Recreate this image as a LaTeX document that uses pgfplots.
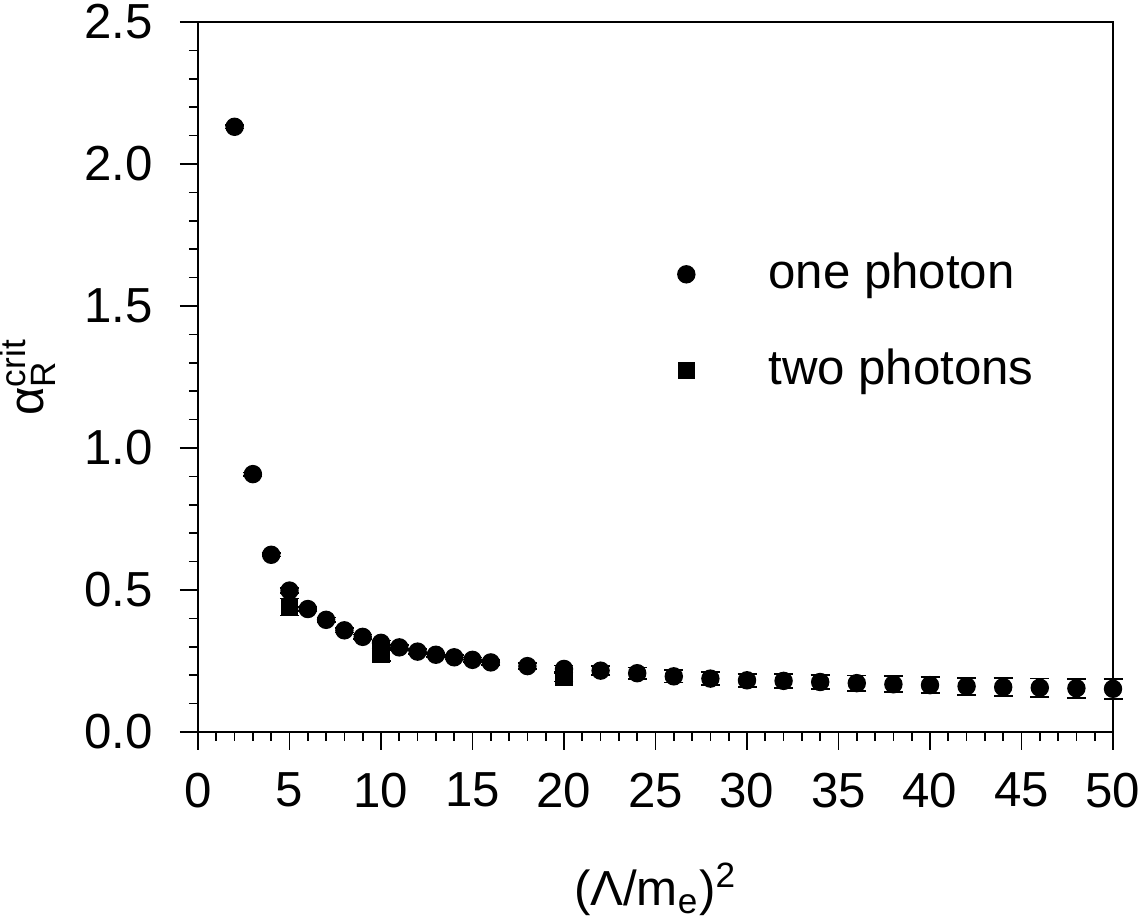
\documentclass[border=0pt]{standalone}
\usepackage{fontspec}
\setmainfont{Liberation Sans}
\usepackage{pgfplots}
\pgfplotsset{compat=1.18}
\newcommand{\sm}[1]{\mbox{\fontsize{10}{12}\selectfont #1}}
\begin{document}
\fontsize{14}{17}\selectfont
\begin{tikzpicture}
\begin{axis}[
  scale only axis, width=91.5mm, height=71mm,
  xmin=0, xmax=50, ymin=0, ymax=2.5,
  xtick={0,5,...,50}, ytick={0,0.5,1,1.5,2,2.5},
  minor x tick num=4, minor y tick num=4,
  xtick pos=bottom, ytick pos=left,
  tick align=outside,
  major tick length=1.8mm, minor tick length=0.9mm,
  axis line style={line width=0.5pt},
  every tick/.append style={line width=0.5pt, black},
  /pgf/number format/assume math mode=true,
  yticklabel style={/pgf/number format/fixed, /pgf/number format/fixed zerofill, /pgf/number format/precision=1},
  ticklabel style={font=\fontsize{14}{17}\selectfont},
  xticklabel style={yshift=-0.6mm},
  yticklabel style={xshift=-1mm},
  xlabel={(Λ/m$_{\sm{e}}$)$^{\sm{2}}$},
  ylabel={α$_{\sm{R}}^{\sm{crit}}$},
  label style={font=\fontsize{14}{17}\selectfont},
  xlabel style={yshift=-2.15mm},
  ylabel style={yshift=-0.5mm},
  clip=false,
  legend style={draw=none, fill=none, at={(rel axis cs:0.522,0.69)}, anchor=north west,
    row sep=3.3mm, font=\fontsize{14}{17}\selectfont, inner sep=0pt,
    nodes={inner sep=1mm}},
  legend cell align=left,
  legend image code/.code={\draw[#1] plot coordinates {(0mm,0mm)};\path[draw=none,fill=none] (-1mm,0) rectangle (7.2mm,0);},
]
\coordinate (O) at (rel axis cs:0,0);
\addplot[only marks, black, mark=*, mark size=0.85mm,
  error bars/.cd, y dir=both, y explicit,
  error bar style={line width=0.5pt},
  error mark options={rotate=90, mark size=0.95mm, line width=0.5pt}]
  table[x=x, y=y, y error=e] {
x y e
2 2.131 0.006
3 0.908 0.006
4 0.624 0.006
5 0.498 0.008
6 0.433 0.008
7 0.395 0.008
8 0.358 0.008
9 0.335 0.008
10 0.314 0.008
11 0.298 0.008
12 0.283 0.008
13 0.272 0.008
14 0.263 0.008
15 0.254 0.008
16 0.245 0.008
18 0.232 0.010
20 0.222 0.012
22 0.216 0.016
24 0.207 0.020
26 0.196 0.022
28 0.188 0.023
30 0.182 0.023
32 0.180 0.024
34 0.176 0.025
36 0.172 0.027
38 0.168 0.028
40 0.165 0.029
42 0.161 0.030
44 0.158 0.031
46 0.156 0.032
48 0.154 0.033
50 0.152 0.035
};
\addlegendentry{one photon}
\addplot[only marks, black, mark=square*, mark size=0.78mm,
  error bars/.cd, y dir=both, y explicit,
  error bar style={line width=0.5pt},
  error mark options={rotate=90, mark size=0.95mm, line width=0.5pt}]
  table[x=x, y=y, y error=e] {
x y e
5 0.440 0.030
10 0.272 0.022
20 0.193 0.015
};
\addlegendentry{two photons}
\end{axis}
\pgfresetboundingbox
\path (O) ++(-19.8mm,-18.4mm) rectangle ++(114.7mm,91.6mm);
\end{tikzpicture}
\end{document}
